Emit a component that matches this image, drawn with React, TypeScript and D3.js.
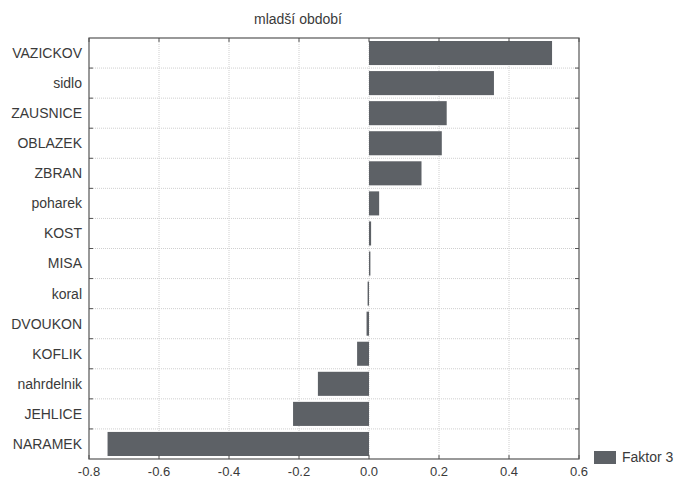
import React from "react";
import * as d3 from "d3";

const categories = ["VAZICKOV", "sidlo", "ZAUSNICE", "OBLAZEK", "ZBRAN", "poharek", "KOST", "MISA", "koral", "DVOUKON", "KOFLIK", "nahrdelnik", "JEHLICE", "NARAMEK"];
const values = [0.523, 0.357, 0.222, 0.208, 0.15, 0.029, 0.006, 0.004, -0.004, -0.007, -0.034, -0.146, -0.217, -0.747];
const xTicks = [-0.8, -0.6, -0.4, -0.2, 0.0, 0.2, 0.4, 0.6];
const title = "mladší období";
const seriesName = "Faktor 3";

const W = 675, H = 481;
const M = { left: 89, right: 579, top: 38, bottom: 459 };
const barColor = "#5d6166";
const axisColor = "#555";
const textColor = "#3a3a3a";
const font = "'Liberation Sans', Arial, sans-serif";

export default function App() {
  const x = d3.scaleLinear().domain([-0.8, 0.6]).range([M.left, M.right]);
  const y = d3.scaleBand().domain(categories).range([M.top, M.bottom]).paddingInner(0.2).paddingOuter(0.1);
  const step = y.step();
  const boundaries = d3.range(1, categories.length).map((i) => M.top + (M.bottom - M.top) * i / categories.length);
  const rowCenter = (c: string) => (y(c) as number) + y.bandwidth() / 2;

  return (
    <svg width={W} height={H} style={{ position: "absolute", left: 0, top: 0, background: "#fff" }}>
      <rect x={0} y={0} width={W} height={H} fill="#fff" />
      {/* grid */}
      {xTicks.slice(1, -1).map((t) => (
        <line key={"gx" + t} x1={x(t)} x2={x(t)} y1={M.top} y2={M.bottom} stroke="#cfcfcf" strokeWidth={1} strokeDasharray="1,1" />
      ))}
      {boundaries.map((b, i) => (
        <line key={"gy" + i} x1={M.left} x2={M.right} y1={b} y2={b} stroke="#cfcfcf" strokeWidth={1} strokeDasharray="1,1" />
      ))}
      {/* bars */}
      {categories.map((c, i) => {
        const v = values[i];
        const x0 = x(Math.min(0, v));
        const x1 = x(Math.max(0, v));
        return <rect key={c} x={x0} y={y(c) as number} width={Math.max(1, x1 - x0)} height={y.bandwidth()} fill={barColor} />;
      })}
      {/* frame */}
      <rect x={M.left} y={M.top} width={M.right - M.left} height={M.bottom - M.top} fill="none" stroke={axisColor} strokeWidth={1.2} />
      {/* ticks */}
      {xTicks.map((t) => (
        <g key={"tx" + t}>
          <line x1={x(t)} x2={x(t)} y1={M.bottom} y2={M.bottom - 4} stroke={axisColor} />
          <line x1={x(t)} x2={x(t)} y1={M.top} y2={M.top + 4} stroke={axisColor} />
          <text x={x(t)} y={M.bottom + 17} textAnchor="middle" fontFamily={font} fontSize={13} fill={textColor}>
            {t.toFixed(1)}
          </text>
        </g>
      ))}
      {boundaries.map((b, i) => (
        <g key={"ty" + i}>
          <line x1={M.left} x2={M.left + 4} y1={b} y2={b} stroke={axisColor} />
          <line x1={M.right} x2={M.right - 4} y1={b} y2={b} stroke={axisColor} />
        </g>
      ))}
      {categories.map((c) => (
        <text key={"l" + c} x={82} y={rowCenter(c)} dy="0.35em" textAnchor="end" fontFamily={font} fontSize={14} fill={textColor}>
          {c}
        </text>
      ))}
      <text x={298} y={24} textAnchor="middle" fontFamily={font} fontSize={14} fill={textColor}>{title}</text>
      {/* legend */}
      <rect x={594} y={451} width={22} height={13} fill={barColor} />
      <text x={622} y={462} fontFamily={font} fontSize={14} fill={textColor}>{seriesName}</text>
    </svg>
  );
}
